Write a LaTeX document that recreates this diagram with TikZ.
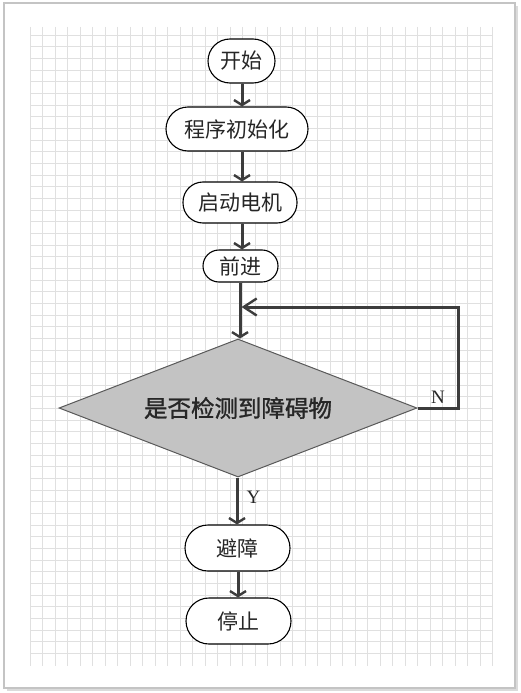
\documentclass[tikz,border=0pt]{standalone}
\usepackage{fontspec}
\setmainfont{Liberation Serif}
\newfontfamily\cjk{Noto Sans CJK SC}
\newfontfamily\cjkb[FakeBold=1.2]{Noto Sans CJK SC}
\usetikzlibrary{arrows.meta,shapes.geometric}
\definecolor{gridc}{HTML}{E0E0E0}
\definecolor{linec}{HTML}{3C3C3C}
\definecolor{fillc}{HTML}{C3C3C3}
\definecolor{framec}{HTML}{C4C4C4}
\begin{document}
\begin{tikzpicture}[x=1pt,y=-1pt,
  gridline/.style={gridc, line width=0.8pt},
  term/.style={draw=black, line width=1.1pt, fill=white, rounded corners=#1,
    inner sep=0pt, font=\cjk\fontsize{21}{21}\selectfont, text=black!85},
  decbox/.style={diamond, draw=black!65, line width=1pt, fill=fillc, inner sep=0pt,
    aspect=2.594, minimum width=358pt, minimum height=138pt,
    font=\cjkb\fontsize{23.5}{24}\selectfont, text=black!85},
  flow/.style={draw=linec, line width=3pt, -{Straight Barb[length=5pt,width=16pt,line width=2.4pt]}},
  loopflow/.style={draw=linec, line width=3pt, -{Straight Barb[length=13pt,width=17pt,line width=2.4pt]}},
  lab/.style={font=\fontsize{19}{19}\selectfont, text=black!85, inner sep=0pt}]
\useasboundingbox (0,0) rectangle (520,693);
% frame
\fill[black!14] (7,6) rectangle (518,691);
\draw[framec, line width=1.5pt, fill=white] (4,3) rectangle (515,688);
% grid
\foreach \i in {0,...,37} \draw[gridline] ({30+12.5*\i},27) -- ({30+12.5*\i},666);
\foreach \j in {0,...,53} \draw[gridline] (30,{35+11.67*\j}) -- (493,{35+11.67*\j});
% nodes
\node[term=22pt, minimum width=67pt, minimum height=44pt] (start) at (241.5,61) {开始};
\node[term=22pt, minimum width=142pt, minimum height=44pt] (init) at (237,129) {程序初始化};
\node[term=20pt, minimum width=114pt, minimum height=41pt] (motor) at (240,202.5) {启动电机};
\node[term=16pt, minimum width=75pt, minimum height=32pt] (fwd) at (240.5,266) {前进};
\node[decbox] (dec) at (238,408) {是否检测到障碍物};
\node[term=23pt, minimum width=105pt, minimum height=46pt] (avoid) at (237.5,548) {避障};
\node[term=23pt, minimum width=105pt, minimum height=46pt] (stop) at (238.5,621) {停止};
% connectors
\coordinate (join) at (240,307);
\draw[flow] (start.south -| 242,0) -- (init.north -| 242,0);
\draw[flow] (init.south -| 242,0) -- (motor.north -| 242,0);
\draw[flow] (motor.south -| 242,0) -- (fwd.north -| 242,0);
\draw[flow] (fwd.south -| join) -- (dec.north -| join);
\draw[loopflow, shorten >=1.5pt] (dec.east) -- (458,408) |- (join);
\draw[flow] (dec.south -| 237,0) -- (avoid.north -| 237,0);
\draw[flow] (avoid.south -| 238,0) -- (stop.north -| 238,0);
% labels
\node[lab] (ylab) at (253.5,497) {Y};
\node[lab] (nlab) at (438,397) {N};
\end{tikzpicture}
\end{document}
